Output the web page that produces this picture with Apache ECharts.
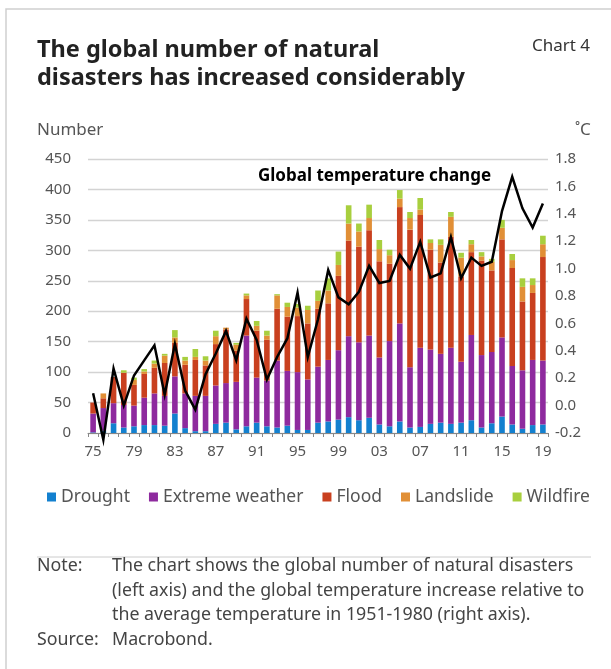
<!DOCTYPE html>
<html>
<head>
<meta charset="utf-8">
<title>Natural disasters and global temperature</title>
<script src="https://cdn.jsdelivr.net/npm/echarts@6/dist/echarts.min.js"></script>
<style>
  html, body { margin: 0; padding: 0; background: #ffffff; }
  #chart { width: 611px; height: 669px; }
</style>
</head>
<body>
<div id="chart"></div>
<script>
// Years 1975-2019, labelled with two digits
const years = ['75','76','77','78','79','80','81','82','83','84','85','86','87','88','89',
  '90','91','92','93','94','95','96','97','98','99','00','01','02','03','04',
  '05','06','07','08','09','10','11','12','13','14','15','16','17','18','19'];

// Number of natural disasters per year, by type (left axis)
const drought = [1, 4, 16, 9, 11, 13, 13, 12, 32, 8, 3, 3, 15, 17, 6,
  11, 17, 11, 9, 12, 5, 5, 17, 19, 22, 26, 21, 25, 14, 11,
  19, 9, 10, 15, 17, 15, 17, 21, 9, 16, 27, 14, 7, 13, 14];
const extremeWeather = [31, 37, 33, 37, 34, 45, 52, 49, 61, 57, 58, 58, 63, 65, 78,
  149, 74, 75, 110, 90, 95, 83, 92, 101, 114, 133, 128, 135, 110, 140,
  161, 99, 130, 122, 113, 125, 100, 140, 119, 117, 130, 96, 96, 107, 105];
const flood = [18, 16, 43, 53, 34, 39, 42, 54, 55, 47, 59, 50, 68, 88, 51,
  60, 77, 67, 85, 89, 92, 92, 95, 93, 122, 157, 157, 173, 158, 127,
  191, 226, 218, 164, 150, 182, 140, 136, 155, 134, 161, 161, 113, 110, 170];
const landslide = [0, 8, 0, 0, 8, 4, 7, 12, 9, 7, 5, 8, 13, 3, 10,
  6, 8, 7, 22, 16, 14, 22, 13, 21, 18, 28, 25, 20, 20, 14,
  14, 19, 9, 11, 29, 33, 31, 13, 7, 14, 19, 13, 24, 13, 21];
const wildfire = [0, 0, 0, 4, 4, 4, 5, 3, 12, 6, 13, 7, 9, 0, 3,
  3, 8, 8, 2, 7, 6, 7, 17, 20, 22, 30, 13, 22, 15, 9,
  14, 10, 19, 6, 9, 8, 8, 7, 7, 5, 13, 10, 14, 11, 14];

// Global temperature change in degrees C (right axis)
const temperature = [0.09, -0.25, 0.27, 0.00, 0.22, 0.33, 0.44, 0.08, 0.45, 0.11, -0.03, 0.23, 0.38, 0.545, 0.33,
  0.635, 0.48, 0.19, 0.355, 0.49, 0.825, 0.355, 0.63, 0.99, 0.79, 0.74, 0.83, 1.02, 0.895, 0.91,
  1.10, 1.00, 1.195, 0.935, 0.965, 1.23, 0.93, 1.08, 1.02, 1.05, 1.42, 1.67, 1.44, 1.30, 1.475];

const FONT = '"Noto Sans", "Open Sans", sans-serif';
const TEXT = '#555555';
const NOTE = '#444444';

const colors = {
  drought: '#1380cf',
  extreme: '#8e2a9e',
  flood: '#c9401f',
  landslide: '#e18f36',
  wildfire: '#a8cf3e'
};

function barSeries(name, data, color) {
  return {
    name: name,
    type: 'bar',
    stack: 'disasters',
    data: data,
    barWidth: '55%',
    itemStyle: { color: color },
    emphasis: { disabled: true }
  };
}

// Single line of text placed by its left edge and vertical centre
function label(x, y, text, size, fill, weight) {
  return {
    type: 'text',
    silent: true,
    style: {
      x: x, y: y, text: text,
      fontFamily: FONT, fontSize: size, fontWeight: weight || 'normal',
      fill: fill, align: 'left', verticalAlign: 'middle'
    }
  };
}

const chart = echarts.init(document.getElementById('chart'), null, { renderer: 'canvas' });

chart.setOption({
  animation: false,
  backgroundColor: '#ffffff',
  textStyle: { fontFamily: FONT },
  legend: {
    left: 47,
    top: 488,
    itemWidth: 9,
    itemHeight: 9,
    itemGap: 19,
    padding: 0,
    icon: 'rect',
    textStyle: { fontFamily: FONT, fontSize: 17.5, color: TEXT },
    data: ['Drought', 'Extreme weather', 'Flood', 'Landslide', 'Wildfire']
  },
  grid: { left: 88, right: 63, top: 159, bottom: 236 },
  xAxis: {
    type: 'category',
    data: years,
    boundaryGap: true,
    axisLine: { show: true, lineStyle: { color: '#888888', width: 1 } },
    axisTick: { show: true, interval: 0, length: 4, lineStyle: { color: '#888888' } },
    axisLabel: { interval: 3, fontSize: 15, color: TEXT, margin: 11, fontFamily: FONT }
  },
  yAxis: [
    {
      type: 'value',
      min: 0,
      max: 450,
      interval: 50,
      axisLine: { show: false },
      axisTick: { show: false },
      axisLabel: { fontSize: 15, color: TEXT, margin: 17, fontFamily: FONT },
      splitLine: { show: true, lineStyle: { color: '#d3d3d3', width: 1.4 } }
    },
    {
      type: 'value',
      min: -0.2,
      max: 1.8,
      interval: 0.2,
      axisLine: { show: false },
      axisTick: { show: false },
      splitLine: { show: false },
      axisLabel: {
        fontSize: 15, color: TEXT, margin: 7, fontFamily: FONT,
        formatter: function (v) { return v.toFixed(1); }
      }
    }
  ],
  series: [
    barSeries('Drought', drought, colors.drought),
    barSeries('Extreme weather', extremeWeather, colors.extreme),
    barSeries('Flood', flood, colors.flood),
    barSeries('Landslide', landslide, colors.landslide),
    barSeries('Wildfire', wildfire, colors.wildfire),
    {
      name: 'Global temperature change',
      type: 'line',
      yAxisIndex: 1,
      data: temperature,
      symbol: 'none',
      clip: false,
      z: 10,
      lineStyle: { color: '#000000', width: 2.5, join: 'miter' },
      emphasis: { disabled: true }
    }
  ],
  graphic: [
    {
      type: 'rect',
      silent: true,
      shape: { x: 6, y: 9, width: 700, height: 700 },
      style: { fill: 'none', stroke: '#cfcfcf', lineWidth: 1.5 }
    },
    label(37, 50, 'The global number of natural', 23.5, '#222222', 'bold'),
    label(37, 78, 'disasters has increased considerably', 23.5, '#222222', 'bold'),
    label(532, 46, 'Chart 4', 17, '#333333'),
    label(37, 130, 'Number', 17, TEXT),
    label(575, 130, '\u02DAC', 17, TEXT),
    label(258, 176, 'Global temperature change', 17, '#000000', 'bold'),
    {
      type: 'line', silent: true,
      shape: { x1: 37, y1: 557, x2: 591, y2: 557 },
      style: { stroke: '#cccccc', lineWidth: 1 }
    },
    label(37, 566, 'Note:', 17.8, NOTE),
    label(112, 566, 'The chart shows the global number of natural disasters', 17.8, NOTE),
    label(112, 591, '(left axis) and the global temperature increase relative to', 17.8, NOTE),
    label(112, 615, 'the average temperature in 1951-1980 (right axis).', 17.8, NOTE),
    label(37, 640, 'Source:', 17.8, NOTE),
    label(112, 640, 'Macrobond.', 17.8, NOTE)
  ]
});
</script>
</body>
</html>
